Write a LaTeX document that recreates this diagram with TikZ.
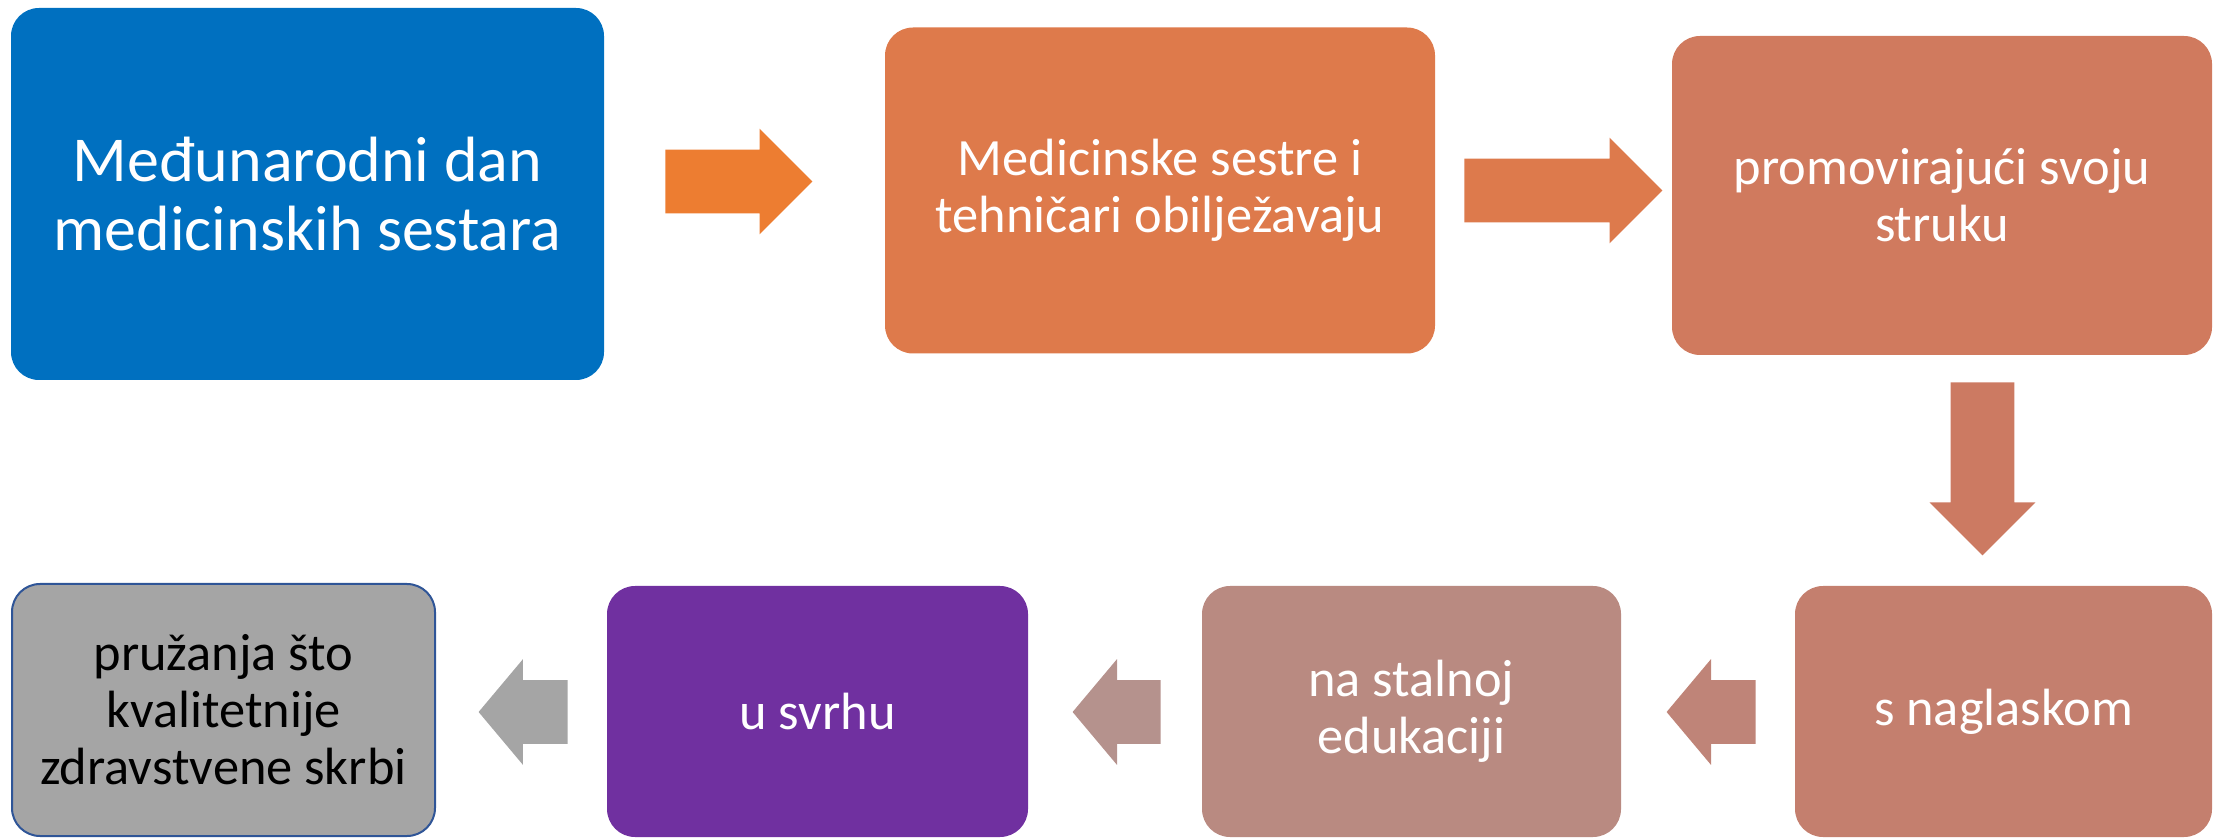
\documentclass[tikz,border=0pt]{standalone}
\usepackage{fontspec}
\setmainfont{Carlito}
\definecolor{dblue}{HTML}{0070C0}
\definecolor{aorange}{HTML}{ED7D31}
\definecolor{sorange}{HTML}{DE7A4B}
\definecolor{sorange2}{HTML}{DD7A4C}
\definecolor{terra}{HTML}{D07A5E}
\definecolor{terra2}{HTML}{CC7A62}
\definecolor{rosy}{HTML}{C47F6E}
\definecolor{rosy2}{HTML}{BF8478}
\definecolor{mauve}{HTML}{B98A81}
\definecolor{mauve2}{HTML}{B5928D}
\definecolor{dpurple}{HTML}{7030A0}
\definecolor{lgray}{HTML}{A5A5A5}
\definecolor{gborder}{HTML}{2F5597}
\usetikzlibrary{shapes.arrows}
\usetikzlibrary{calc}

\begin{document}
\begin{tikzpicture}[x=0.5pt,y=-0.5pt,
	box/.style={rounded corners=14pt, align=center, text=white, inner sep=0pt},
	bigtxt/.style={font=\fontsize{32}{34.5}\selectfont},
	txt/.style={font=\fontsize{26.2}{28.5}\selectfont},
	barrow/.style={single arrow, single arrow head extend=10.5pt, minimum width=0pt,
		inner xsep=0pt, inner ysep=15.75pt, anchor=tail},
	barrowl/.style={barrow, shape border rotate=180, single arrow tip angle=100},
	barrowd/.style={barrow, shape border rotate=270, inner xsep=15.75pt, inner ysep=0pt}]
	\useasboundingbox (0,0) rectangle (2214,838);
	\clip (0,0) rectangle (2214,838);
	% upper row
	\node[box, bigtxt, fill=dblue, minimum width=296.5pt, minimum height=186pt] (dan) at (307.5,194) {Međunarodni dan\\medicinskih sestara};
	\node[box, txt, fill=sorange, minimum width=275pt, minimum height=163pt] (sestre) at (1160,190.5) {Medicinske sestre i\\tehničari obilježavaju};
	\node[box, txt, fill=terra, minimum width=270pt, minimum height=159.5pt] (struka) at (1942,195.5) {promovirajući svoju\\struku};
	% lower row
	\node[box, txt, fill=rosy, minimum width=208.5pt, minimum height=125.5pt] (naglasak) at (2003.5,711.5) {s naglaskom};
	\node[box, txt, fill=mauve, minimum width=209.5pt, minimum height=125.5pt] (edukacija) at (1411.5,711.5) {na stalnoj\\edukaciji};
	\node[box, txt, fill=dpurple, minimum width=210.5pt, minimum height=125.5pt] (svrha) at (817.5,711.5) {u svrhu};
	\node[box, txt, fill=lgray, draw=gborder, line width=1pt, text=black, minimum width=211.5pt, minimum height=126pt] (skrb) at (223.5,710) {pružanja što\\kvalitetnije\\zdravstvene skrbi};
	% block arrows
	\node[barrow, fill=aorange, minimum height=73.5pt] (a1) at (665,181.5) {};
	\node[barrow, fill=sorange2, minimum height=99pt] (a2) at (1464,190.5) {};
	\node[barrowd, fill=terra2, minimum height=86.5pt] (a3) at (1982.5,382) {};
	\node[barrowl, fill=rosy2, minimum height=44.5pt] (a4) at (1756,712) {};
	\node[barrowl, fill=mauve2, minimum height=44pt] (a5) at (1161,712) {};
	\node[barrowl, fill=lgray, minimum height=44.5pt] (a6) at (568,712) {};
\end{tikzpicture}
\end{document}
